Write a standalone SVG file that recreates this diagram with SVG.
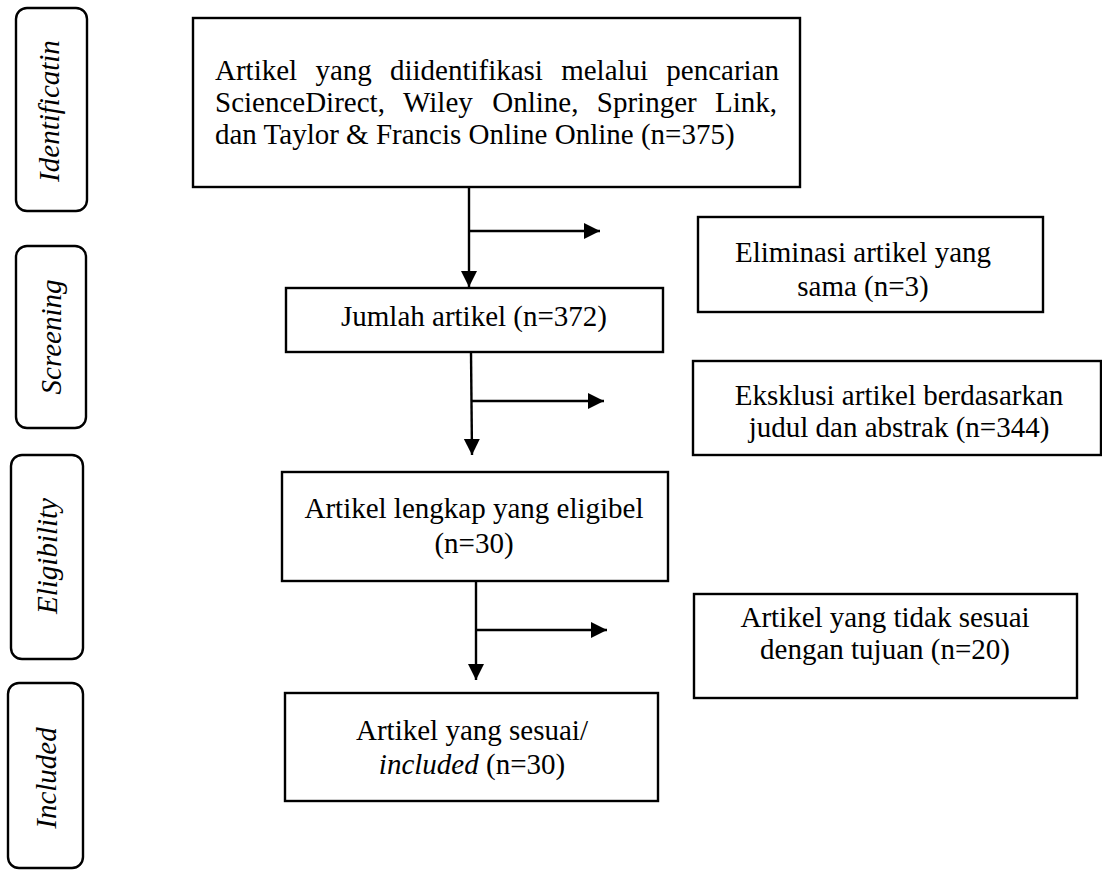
<svg xmlns="http://www.w3.org/2000/svg" width="1102" height="871" viewBox="0 0 1102 871">
<style>
.box{fill:#fff;stroke:#000;stroke-width:2.4}
.phase{fill:#fff;stroke:#000;stroke-width:2.4}
.t{font-family:"Liberation Serif","Times New Roman",serif;font-size:29px;fill:#000}
.c{text-anchor:middle}
.lab{font-family:"Liberation Serif","Times New Roman",serif;font-size:29px;font-style:italic;fill:#000;text-anchor:middle}
.con{fill:none;stroke:#000;stroke-width:2.4}
</style>
<defs>
<marker id="ah" markerUnits="userSpaceOnUse" markerWidth="17" markerHeight="17" refX="16" refY="8" orient="auto">
<path d="M0,0 L16,8 L0,16 z" fill="#000"/>
</marker>
</defs>
<rect width="1102" height="871" fill="#fff"/>

<g id="phase-identification">
<rect class="phase" x="16" y="8" width="71" height="203" rx="11"/>
<text class="lab" transform="translate(59,111) rotate(-90)">Identificatin</text>
</g>
<g id="phase-screening">
<rect class="phase" x="16" y="246" width="70" height="182" rx="11"/>
<text class="lab" transform="translate(61,337) rotate(-90)">Screening</text>
</g>
<g id="phase-eligibility">
<rect class="phase" x="11" y="455" width="72" height="204" rx="11"/>
<text class="lab" transform="translate(57,556) rotate(-90)">Eligibility</text>
</g>
<g id="phase-included">
<rect class="phase" x="8" y="683" width="75" height="185" rx="11"/>
<text class="lab" transform="translate(56,778) rotate(-90)">Included</text>
</g>

<g id="node-identified">
<rect class="box" x="193" y="18" width="607" height="169"/>
<text class="t" y="80"><tspan x="215">Artikel</tspan><tspan x="315.4">yang</tspan><tspan x="389.9">diidentifikasi</tspan><tspan x="561.2">melalui</tspan><tspan x="779" text-anchor="end">pencarian</tspan></text>
<text class="t" y="112"><tspan x="215">ScienceDirect,</tspan><tspan x="403.1">Wiley</tspan><tspan x="492.3">Online,</tspan><tspan x="596.8">Springer</tspan><tspan x="777" text-anchor="end">Link,</tspan></text>
<text class="t" x="215" y="144">dan Taylor &amp; Francis Online Online (n=375)</text>
</g>

<g id="node-duplicates">
<rect class="box" x="698" y="217" width="345" height="95"/>
<text class="t c" x="863" y="262">Eliminasi artikel yang</text>
<text class="t c" x="863" y="296">sama (n=3)</text>
</g>

<g id="node-total">
<rect class="box" x="286" y="288" width="377" height="64"/>
<text class="t c" x="474" y="326">Jumlah artikel (n=372)</text>
</g>

<g id="node-excluded">
<rect class="box" x="693" y="361" width="408" height="94"/>
<text class="t c" x="899" y="405">Eksklusi artikel berdasarkan</text>
<text class="t c" x="899" y="437">judul dan abstrak (n=344)</text>
</g>

<g id="node-eligible">
<rect class="box" x="282" y="472" width="386" height="109"/>
<text class="t c" x="474" y="518">Artikel lengkap yang eligibel</text>
<text class="t c" x="474" y="553">(n=30)</text>
</g>

<g id="node-notsuitable">
<rect class="box" x="694" y="594" width="383" height="104"/>
<text class="t c" x="885" y="627">Artikel yang tidak sesuai</text>
<text class="t c" x="885" y="659">dengan tujuan (n=20)</text>
</g>

<g id="node-included">
<rect class="box" x="285" y="693" width="373" height="108"/>
<text class="t c" x="472" y="740">Artikel yang sesuai/</text>
<text class="t c" x="472" y="774"><tspan font-style="italic">included</tspan> (n=30)</text>
</g>

<g id="connectors">
<line class="con" x1="469" y1="187" x2="469" y2="287" marker-end="url(#ah)"/>
<line class="con" x1="469" y1="231" x2="600" y2="231" marker-end="url(#ah)"/>
<line class="con" x1="471" y1="352" x2="472" y2="455" marker-end="url(#ah)"/>
<line class="con" x1="472" y1="401" x2="604" y2="401" marker-end="url(#ah)"/>
<line class="con" x1="476" y1="581" x2="476" y2="680" marker-end="url(#ah)"/>
<line class="con" x1="476" y1="630" x2="607" y2="630" marker-end="url(#ah)"/>
</g>
</svg>
